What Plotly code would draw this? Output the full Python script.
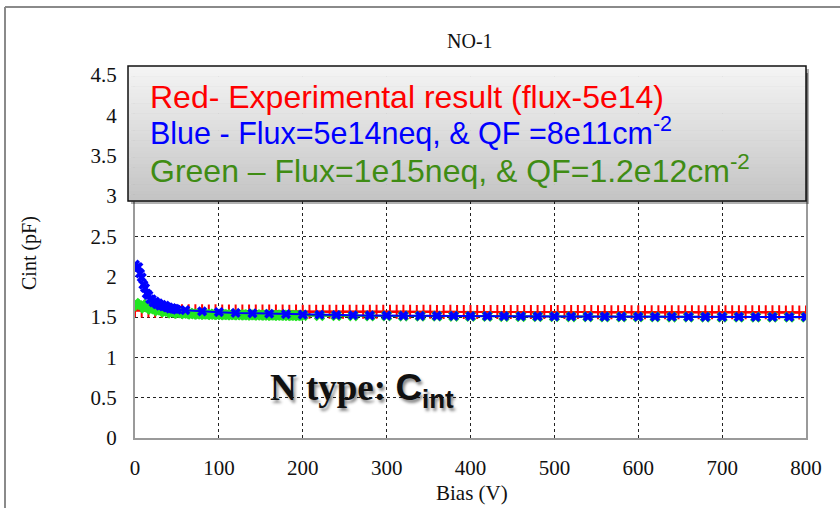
import plotly.graph_objects as go

# ---------------- data ----------------
bias_red = [0, 8, 16, 24, 32, 40, 48, 56, 64, 72,
            80, 88, 96, 104, 112, 120, 128, 136, 144, 152,
            160, 168, 176, 184, 192, 200, 208, 216, 224, 232,
            240, 248, 256, 264, 272, 280, 288, 296, 304, 312,
            320, 328, 336, 344, 352, 360, 368, 376, 384, 392,
            400, 408, 416, 424, 432, 440, 448, 456, 464, 472,
            480, 488, 496, 504, 512, 520, 528, 536, 544, 552,
            560, 568, 576, 584, 592, 600, 608, 616, 624, 632,
            640, 648, 656, 664, 672, 680, 688, 696, 704, 712,
            720, 728, 736, 744, 752, 760, 768, 776, 784, 792,
            800]
cint_red = [1.585, 1.582, 1.580, 1.577, 1.575, 1.574, 1.572, 1.571, 1.570, 1.570,
            1.570, 1.569, 1.570, 1.569, 1.569, 1.568, 1.569, 1.568, 1.568, 1.567,
            1.568, 1.567, 1.567, 1.566, 1.567, 1.566, 1.566, 1.566, 1.565, 1.566,
            1.565, 1.565, 1.566, 1.565, 1.565, 1.564, 1.565, 1.565, 1.564, 1.564,
            1.564, 1.564, 1.563, 1.564, 1.564, 1.563, 1.563, 1.564, 1.563, 1.563,
            1.563, 1.562, 1.563, 1.563, 1.562, 1.562, 1.563, 1.562, 1.562, 1.562,
            1.562, 1.561, 1.562, 1.561, 1.561, 1.562, 1.561, 1.561, 1.561, 1.560,
            1.561, 1.560, 1.560, 1.561, 1.560, 1.560, 1.560, 1.560, 1.559, 1.560,
            1.560, 1.559, 1.560, 1.559, 1.559, 1.560, 1.559, 1.559, 1.559, 1.558,
            1.559, 1.558, 1.559, 1.558, 1.558, 1.558, 1.558, 1.557, 1.558, 1.557,
            1.557]

bias_blue = [0, 2, 4, 6, 8, 10, 12, 14, 16, 18, 20, 22, 24, 26, 28, 30, 32, 34, 36, 38,
             40, 42, 44, 46, 48, 50,
             60, 80, 100, 120, 140, 160, 180, 200, 220, 240, 260, 280, 300, 320, 340,
             360, 380, 400, 420, 440, 460, 480, 500, 520, 540, 560, 580, 600, 620, 640,
             660, 680, 700, 720, 740, 760, 780, 800]
cint_blue = [2.15, 2.11, 2.12, 2.04, 1.99, 1.90, 1.86, 1.79, 1.77, 1.72, 1.72, 1.68, 1.69,
             1.66, 1.67, 1.64, 1.65, 1.63, 1.64, 1.62, 1.62, 1.605, 1.61, 1.60, 1.60, 1.59,
             1.585, 1.57, 1.56, 1.55, 1.545, 1.54, 1.535, 1.53, 1.528, 1.525, 1.522, 1.52,
             1.518, 1.516, 1.515, 1.514, 1.513, 1.512, 1.511, 1.510, 1.509, 1.508, 1.507,
             1.506, 1.505, 1.505, 1.504, 1.504, 1.503, 1.503, 1.502, 1.502, 1.501, 1.501,
             1.500, 1.500, 1.500, 1.500]

bias_green = [0, 4, 8, 12, 16, 20, 24, 28, 32, 36, 40, 44, 48, 52, 56, 60, 64, 68, 72, 76,
              80, 84, 88, 92, 96, 100, 104, 108, 112, 116, 120, 124, 128, 132, 136, 140,
              144, 148, 152, 156, 160, 164, 168, 172, 176, 180, 184, 188, 192, 196, 200,
              220, 240, 260, 280, 300, 320, 340, 360, 380, 400, 420, 440, 460, 480, 500,
              520, 540, 560, 580, 600, 620, 640, 660, 680, 700, 720, 740, 760, 780, 800]
cint_green = [1.67, 1.64, 1.655, 1.61, 1.625, 1.595, 1.60, 1.575, 1.585, 1.56, 1.57, 1.55,
              1.56, 1.545, 1.552, 1.54, 1.545, 1.536, 1.54, 1.534, 1.537, 1.532, 1.535,
              1.53, 1.533, 1.529, 1.531, 1.528, 1.530, 1.527, 1.529, 1.526, 1.528, 1.525,
              1.527, 1.524, 1.526, 1.523, 1.525, 1.522, 1.524, 1.521, 1.523, 1.520, 1.522,
              1.520, 1.521, 1.519, 1.520, 1.518, 1.519,
              1.517, 1.516, 1.515, 1.514, 1.513, 1.512, 1.511, 1.510, 1.509, 1.508,
              1.507, 1.506, 1.505, 1.505, 1.504, 1.503, 1.503, 1.502, 1.502, 1.501,
              1.501, 1.500, 1.500, 1.500, 1.499, 1.499, 1.499, 1.498, 1.498, 1.498]

x_ticks = [0, 100, 200, 300, 400, 500, 600, 700, 800]
y_ticks = [0, 0.5, 1, 1.5, 2, 2.5, 3, 3.5, 4, 4.5]
y_tick_labels = ["0", "0.5", "1", "1.5", "2", "2.5", "3", "3.5", "4", "4.5"]

chart_title = "NO-1"
x_title = "Bias (V)"
y_title = "Cint (pF)"
note_lines = [
    ("Red- Experimental result (flux-5e14)", "#ff0000"),
    ("Blue - Flux=5e14neq, & QF =8e11cm<sup>-2</sup>", "#0000ff"),
    ("Green \u2013 Flux=1e15neq, & QF=1.2e12cm<sup>-2</sup>", "#3f8c14"),
]
big_label = ("N type: <span style=\"font-family:'Liberation Sans', Arial\">C"
             "<sub>int</sub></span>")

# ---------------- figure ----------------
W, H = 840, 508
L, R, T, B = 135, 34, 75, 70
pw, ph = W - L - R, H - T - B


def px(x):
    return (x - L) / pw


def py(y):
    return (H - B - y) / ph


serif = "'Liberation Serif', 'Times New Roman', serif"
sans = "'Liberation Sans', Arial, sans-serif"

fig = go.Figure()
fig.add_trace(go.Scatter(
    x=bias_red, y=cint_red, mode="lines+markers",
    line=dict(color="#ff0000", width=2),
    marker=dict(symbol="cross-thin", size=10, color="#ff0000",
                line=dict(color="#ff0000", width=2)),
    showlegend=False))
fig.add_trace(go.Scatter(
    x=bias_green, y=cint_green, mode="lines+markers",
    line=dict(color="#10b010", width=2),
    marker=dict(symbol="x", size=10, color="#22e622", line=dict(width=0)),
    showlegend=False))
fig.add_trace(go.Scatter(
    x=bias_blue, y=cint_blue, mode="lines+markers",
    line=dict(color="#0000ff", width=2),
    marker=dict(symbol="x", size=9, color="#0000ff", line=dict(width=0)),
    showlegend=False))

shapes = []
# outer frame (extends past the window on right/bottom)
shapes.append(dict(type="line", xref="paper", yref="paper",
                   x0=px(5), x1=px(5), y0=py(530), y1=py(7),
                   line=dict(color="#8a8a8a", width=2), layer="above"))
shapes.append(dict(type="line", xref="paper", yref="paper",
                   x0=px(5), x1=px(860), y0=py(7), y1=py(7),
                   line=dict(color="#8a8a8a", width=2), layer="above"))

# note box: shadow, gradient bands, border
bx0, bx1, by0, by1 = 128, 806, 66, 201
shapes.append(dict(type="rect", xref="paper", yref="paper",
                   x0=px(bx0 + 3), x1=px(bx1 + 3), y0=py(by1 + 3), y1=py(by0 + 3),
                   fillcolor="rgba(0,0,0,0.30)", line=dict(width=0), layer="above"))
nb = 40
for i in range(nb):
    t = i / (nb - 1)
    c = int(round(244 - (244 - 196) * t))
    ya = by0 + (by1 - by0) * i / nb
    yb = by0 + (by1 - by0) * (i + 1) / nb
    shapes.append(dict(type="rect", xref="paper", yref="paper",
                       x0=px(bx0), x1=px(bx1), y0=py(yb + 0.5), y1=py(ya),
                       fillcolor=f"rgb({c},{c},{c})", line=dict(width=0), layer="above"))
shapes.append(dict(type="rect", xref="paper", yref="paper",
                   x0=px(bx0), x1=px(bx1), y0=py(by1), y1=py(by0),
                   fillcolor="rgba(0,0,0,0)", line=dict(color="#111111", width=1.5),
                   layer="above"))

annotations = []
annotations.append(dict(text=chart_title, xref="paper", yref="paper",
                        x=px(470), y=py(41), xanchor="center", yanchor="middle",
                        showarrow=False, font=dict(family=serif, size=20, color="#111")))
annotations.append(dict(text=x_title, xref="paper", yref="paper",
                        x=px(472), y=py(493), xanchor="center", yanchor="middle",
                        showarrow=False, font=dict(family=serif, size=21, color="#111")))
annotations.append(dict(text=y_title, xref="paper", yref="paper",
                        x=px(30), y=py(253), xanchor="center", yanchor="middle",
                        textangle=-90, showarrow=False,
                        font=dict(family=serif, size=20, color="#111")))
for (txt, col), yc, fs in zip(note_lines, [97, 131, 169], [32, 30.5, 32]):
    annotations.append(dict(text=txt, xref="paper", yref="paper",
                            x=px(148), y=py(yc), xanchor="left", yanchor="middle",
                            showarrow=False, align="left",
                            font=dict(family=sans, size=fs, color=col)))
annotations.append(dict(text=big_label, xref="paper", yref="paper",
                        x=px(268), y=py(390), xanchor="left", yanchor="middle",
                        showarrow=False,
                        font=dict(family=serif, size=37, color="#111", weight="bold",
                                  shadow="2px 3px 3px rgba(0,0,0,0.45)")))

fig.update_layout(
    width=W, height=H,
    margin=dict(l=L, r=R, t=T, b=B, pad=0),
    paper_bgcolor="white", plot_bgcolor="white",
    shapes=shapes, annotations=annotations,
    showlegend=False,
    xaxis=dict(range=[0, 800], tickvals=x_ticks, ticktext=[str(v) for v in x_ticks],
               showgrid=True, gridcolor="#222", griddash="dot", gridwidth=1,
               showline=True, linecolor="#9a9a9a", linewidth=2, mirror=True,
               zeroline=False, ticks="", ticklabelstandoff=10,
               tickfont=dict(family=serif, size=21, color="#111")),
    yaxis=dict(range=[0, 4.5], tickvals=y_ticks, ticktext=y_tick_labels,
               showgrid=True, gridcolor="#222", griddash="dot", gridwidth=1,
               showline=True, linecolor="#9a9a9a", linewidth=2, mirror=True,
               zeroline=False, ticks="", ticklabelstandoff=12,
               tickfont=dict(family=serif, size=21, color="#111")),
)

fig.write_html("out.html", config={"displayModeBar": False},
               post_script="document.body.style.margin='0px';document.body.style.padding='0px';")
